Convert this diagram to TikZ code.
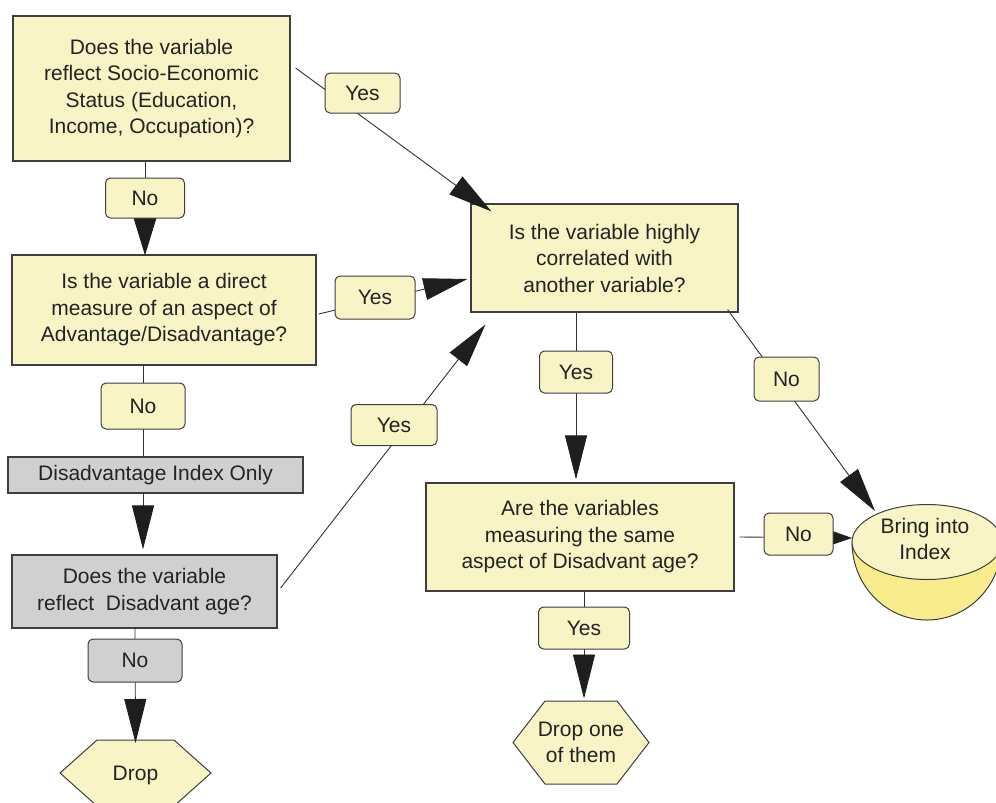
\documentclass[tikz,border=0pt]{standalone}
\usepackage{fontspec}
\setmainfont{Liberation Sans}
\usetikzlibrary{arrows.meta,calc}
\definecolor{ly}{RGB}{248,244,198}
\definecolor{gy}{RGB}{208,208,208}
\definecolor{bowly}{RGB}{248,236,140}
\definecolor{bordercol}{RGB}{62,62,62}
\definecolor{linecol}{RGB}{50,50,50}
\definecolor{arrowcol}{RGB}{30,30,30}
\definecolor{txt}{RGB}{35,35,35}
\begin{document}
\begin{tikzpicture}[x=1pt,y=-1pt,
  font=\fontsize{21}{26.5}\selectfont,
  box/.style={draw=bordercol, line width=1.2pt, fill=ly, align=center, inner sep=0pt, text=txt},
  graybox/.style={box, fill=gy},
  lbl/.style={draw=bordercol, line width=1pt, fill=ly, rounded corners=5pt, inner sep=0pt, text=txt},
  graylbl/.style={lbl, fill=gy},
  conn/.style={draw=linecol, line width=0.9pt},
  bigarrow/.style={conn, -{Triangle[length=44pt,width=22pt,color=arrowcol]}},
  midarrow/.style={conn, -{Triangle[length=38pt,width=23pt,color=arrowcol]}},
  smallarrow/.style={conn, -{Triangle[length=19pt,width=13pt,color=arrowcol]}},
  hexshape/.style={draw=bordercol, line width=1pt, fill=ly},
  txtnode/.style={align=center, inner sep=0pt, text=txt}
]
\useasboundingbox (0,0) rectangle (996,803);
\clip (0,0) rectangle (996,803);

% main boxes
\node[box, minimum width=277pt, minimum height=145pt] (A) at (151.5,88.5)
  {Does the variable\\reflect Socio-Economic\\Status (Education,\\Income, Occupation)?};
\node[box, minimum width=304pt, minimum height=110pt] (B) at (164,310)
  {Is the variable a direct\\measure of an aspect of\\Advantage/Disadvantage?};
\node[graybox, minimum width=295pt, minimum height=36pt] (G) at (155.5,475)
  {Disadvantage Index Only};
\node[graybox, minimum width=265pt, minimum height=73pt] (D) at (144.5,591.5)
  {Does the variable\\reflect\ \ Disadvant age?};
\node[box, minimum width=267pt, minimum height=108pt] (C) at (604.5,258)
  {Is the variable highly\\correlated with\\another variable?};
\node[box, minimum width=308pt, minimum height=108pt] (E) at (580,537)
  {Are the variables\\measuring the same\\aspect of Disadvant age?};

% terminal shapes
\draw[hexshape] (60,773) -- (97,740) -- (174,740) -- (211,773) -- (174,806) -- (97,806) -- cycle;
\node[txtnode] (drop) at (135.5,775) {Drop};
\draw[hexshape] (513,742.5) -- (545,701) -- (617,701) -- (649,742.5) -- (617,784) -- (545,784) -- cycle;
\node[txtnode] (dropone) at (581,742.5) {Drop one\\of them};
\draw[draw=bordercol, line width=1pt, fill=bowly] (852,542) arc[start angle=180, end angle=360, x radius=75pt, y radius=78pt] -- cycle;
\draw[draw=bordercol, line width=1pt, fill=ly] (927,542) ellipse[x radius=75pt, y radius=37.5pt];
\node[txtnode] (bring) at (925,539) {Bring into\\Index};

% connectors
\draw[midarrow] ($(A.south)+(-6.5,0)$) -- ($(B.north)+(-19,1)$);
\draw[bigarrow] ($(A.east)+(5,-20.5)$) -- ($(C.north west)+(21,8)$);
\draw[bigarrow] ($(B.east)+(2,4)$) -- ($(C.west)+(-3,21)$);
\draw[conn] ($(B.south)+(-21,0)$) -- ($(G.north)+(-12.5,0)$);
\draw[bigarrow] ($(G.south)+(-12.5,0)$) -- ($(D.north)+(-1.5,-5)$);
\draw[bigarrow] ($(D.east)+(3,-3.5)$) -- ($(C.south west)+(15,12)$);
\draw[bigarrow] ($(D.south)+(-9.5,0)$) -- ($(drop)+(0,-32)$);
\draw[bigarrow] ($(C.south)+(-28.5,0)$) -- ($(E.north)+(-4,-3)$);
\draw[bigarrow] ($(C.south east)+(-11,-3)$) -- ($(bring)+(-50,-28)$);
\draw[smallarrow] ($(E.east)+(5,0)$) -- ($(bring)+(-73,-1)$);
\draw[bigarrow] ($(E.south)+(4,0)$) -- ($(dropone)+(3,-44)$);

% labels on connectors
\node[lbl, minimum width=79pt, minimum height=40pt] (noA) at (145,198) {No};
\node[lbl, minimum width=75pt, minimum height=40pt] (yesA) at (362.5,93) {Yes};
\node[lbl, minimum width=80pt, minimum height=43pt] (yesB) at (375,297.5) {Yes};
\node[lbl, minimum width=84pt, minimum height=46pt] (noB) at (143,406) {No};
\node[lbl, minimum width=86pt, minimum height=41pt] (yesD) at (394,425) {Yes};
\node[graylbl, minimum width=94pt, minimum height=43pt] (noD) at (135,660.5) {No};
\node[lbl, minimum width=73pt, minimum height=42pt] (yesC) at (576,372) {Yes};
\node[lbl, minimum width=65pt, minimum height=44pt] (noC) at (786.5,379) {No};
\node[lbl, minimum width=69pt, minimum height=42pt] (noE) at (798.5,534) {No};
\node[lbl, minimum width=91pt, minimum height=42pt] (yesE) at (584,628) {Yes};
\end{tikzpicture}
\end{document}
